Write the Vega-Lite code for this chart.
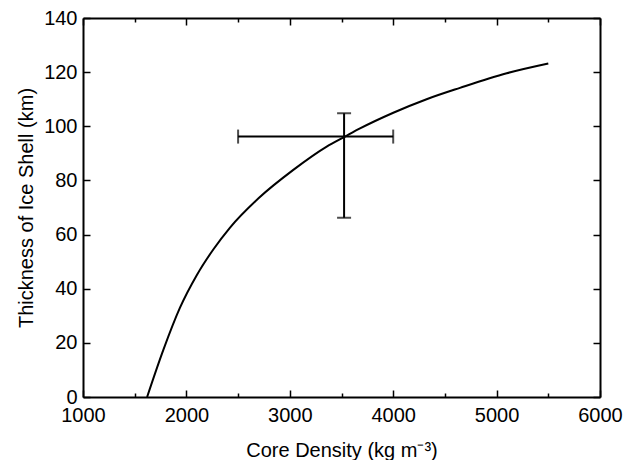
{
  "$schema": "https://vega.github.io/schema/vega-lite/v6.json",
  "autosize": "none",
  "width": 517,
  "height": 379,
  "padding": {"left": 83, "top": 18, "right": 35, "bottom": 63},
  "background": "white",
  "config": {
    "view": {"stroke": null},
    "font": "Liberation Sans",
    "axis": {
      "domainColor": "black", "domainWidth": 2, "tickColor": "black", "tickWidth": 1.5,
      "labelColor": "black", "titleColor": "black", "labelFont": "Liberation Sans", "titleFont": "Liberation Sans",
      "labelFontSize": 20, "titleFontSize": 20, "titleFontWeight": "normal", "grid": false,
      "labelFlush": false, "labelOverlap": false
    }
  },
  "datasets": {
    "curve": [
      {"density": 1620, "thickness": 0},
      {"density": 1777, "thickness": 17.4},
      {"density": 1938, "thickness": 33.0},
      {"density": 2100, "thickness": 45},
      {"density": 2260, "thickness": 54.5},
      {"density": 2422, "thickness": 62.6},
      {"density": 2700, "thickness": 73.5},
      {"density": 3034, "thickness": 83.9},
      {"density": 3357, "thickness": 92.5},
      {"density": 3534, "thickness": 96.2},
      {"density": 3679, "thickness": 99.2},
      {"density": 4001, "thickness": 105.0},
      {"density": 4323, "thickness": 110.0},
      {"density": 4646, "thickness": 114.2},
      {"density": 5098, "thickness": 119.6},
      {"density": 5500, "thickness": 123.2}
    ],
    "obs": [
      {"density": 3525, "thickness": 96.2, "dlow": 2500, "dhigh": 4000, "tlow": 66.2, "thigh": 104.8}
    ]
  },
  "layer": [
    {
      "data": {"name": "curve"},
      "mark": {"type": "line", "color": "black", "strokeWidth": 2, "interpolate": "monotone", "clip": true},
      "encoding": {
        "x": {"field": "density", "type": "quantitative", "scale": {"domain": [1000, 6000], "nice": false, "zero": false},
          "axis": {"orient": "bottom", "title": "Core Density (kg m⁻³)", "values": [1000,1500,2000,2500,3000,3500,4000,4500,5000,5500,6000],
            "format": "d", "labelExpr": "datum.value % 1000 === 0 ? datum.label : ''",
            "tickSize": {"condition": {"test": "datum.value % 1000 === 0", "value": -7}, "value": -4},
            "labelPadding": 15, "titlePadding": 12}},
        "y": {"field": "thickness", "type": "quantitative", "scale": {"domain": [0, 140], "nice": false},
          "axis": {"orient": "left", "title": "Thickness of Ice Shell (km)", "values": [0,20,40,60,80,100,120,140],
            "tickSize": -7, "labelPadding": 13, "titlePadding": 7}}
      }
    },
    {
      "data": {"name": "obs"},
      "mark": {"type": "rule", "color": "black", "strokeWidth": 2},
      "encoding": {
        "x": {"field": "dlow", "type": "quantitative",
          "axis": {"orient": "top", "title": null, "labels": false, "values": [1000,1500,2000,2500,3000,3500,4000,4500,5000,5500,6000],
            "tickSize": {"condition": {"test": "datum.value % 1000 === 0", "value": -7}, "value": -4}}},
        "x2": {"field": "dhigh"},
        "y": {"field": "thickness", "type": "quantitative",
          "axis": {"orient": "right", "title": null, "labels": false, "values": [0,20,40,60,80,100,120,140], "tickSize": -7}}
      }
    },
    {
      "data": {"name": "obs"},
      "mark": {"type": "rule", "color": "black", "strokeWidth": 2},
      "encoding": {
        "x": {"field": "density", "type": "quantitative", "axis": null},
        "y": {"field": "tlow", "type": "quantitative", "axis": null},
        "y2": {"field": "thigh"}
      }
    },
    {
      "data": {"name": "obs"},
      "transform": [{"fold": ["dlow", "dhigh"], "as": ["end", "dval"]}],
      "mark": {"type": "tick", "orient": "vertical", "color": "black", "thickness": 2, "size": 14},
      "encoding": {
        "x": {"field": "dval", "type": "quantitative", "axis": null},
        "y": {"field": "thickness", "type": "quantitative", "axis": null}
      }
    },
    {
      "data": {"name": "obs"},
      "transform": [{"fold": ["tlow", "thigh"], "as": ["end", "tval"]}],
      "mark": {"type": "tick", "orient": "horizontal", "color": "black", "thickness": 2, "size": 14},
      "encoding": {
        "x": {"field": "density", "type": "quantitative", "axis": null},
        "y": {"field": "tval", "type": "quantitative", "axis": null}
      }
    }
  ],
  "resolve": {"axis": {"x": "independent", "y": "independent"}}
}
